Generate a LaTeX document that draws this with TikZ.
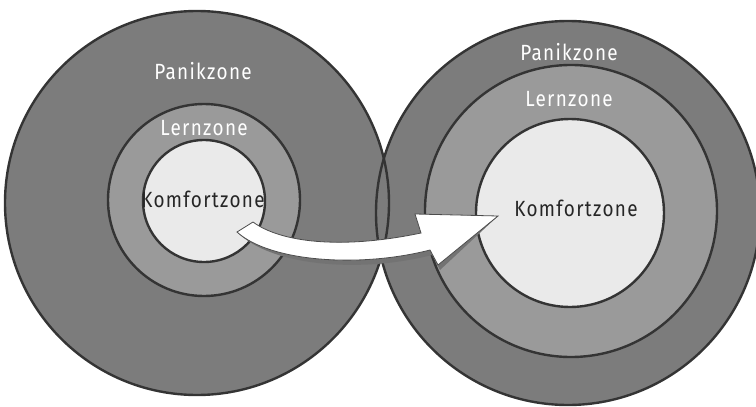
\documentclass[tikz,border=0pt]{standalone}
\usepackage{fontspec}
\usepackage{tikz}
\usetikzlibrary{positioning,calc}
\newfontfamily\zonefont[FakeStretch=0.86,LetterSpace=6]{Fira Sans}
\definecolor{panikgray}{RGB}{124,124,124}
\definecolor{lerngray}{RGB}{154,154,154}
\definecolor{komfortgray}{RGB}{234,234,234}
\definecolor{ringline}{RGB}{52,52,52}
\tikzset{
  ring/.style={circle, inner sep=0pt, line width=2.4pt, draw=ringline},
  zonetext/.style={font=\zonefont\fontsize{22}{24}\selectfont, inner sep=0pt},
  bigzone/.style={circle, inner sep=0pt, fill=panikgray}
}

\begin{document}
\begin{tikzpicture}[x=1pt,y=-1pt]
  \useasboundingbox (0,0) rectangle (756,407);
  \node[bigzone, minimum size=384pt] (lpanik) at (197,203) {};
  \node[bigzone, minimum size=384pt] (rpanik) at (568,213) {};
  \draw[line width=2.4pt, ringline] (lpanik.center) circle[radius=192];
  \draw[line width=2.4pt, ringline] (rpanik.center) circle[radius=192];
  \node[ring, fill=lerngray, minimum size=192pt] (llern) at (204,200) {};
  \node[ring, fill=komfortgray, minimum size=122pt] (lkomf) at (204,201) {};
  \node[ring, fill=lerngray, minimum size=292pt] (rlern) at (571,211) {};
  \node[ring, fill=komfortgray, minimum size=188pt] (rkomf) at (570,213) {};

  \node[zonetext, white] (lpanik-t) at (203,71) {Panikzone};
  \node[zonetext, white] (llern-t) at (204,128) {Lernzone};
  \node[zonetext, black!85] (lkomf-t) at (203,199) {Komfortzone};
  \node[zonetext, white] (rpanik-t) at (569,52) {Panikzone};
  \node[zonetext, white] (rlern-t) at (569,99) {Lernzone};
  \node[zonetext, black!85] (rkomf-t) at (576,208) {Komfortzone};

  \coordinate (atail) at (237,232);
  \coordinate (atip) at (498,216);
  \fill[black!55, shift={(2,5)}]
    (atail) -- (253,222) .. controls (280,242) and (340,250) .. (421,233)
    -- (415,214) -- (atip) -- (438,265) -- (430,250)
    .. controls (360,268) and (270,262) .. (atail) -- cycle;
  \filldraw[fill=white, draw=black!70, line width=0.8pt]
    (atail) -- (253,222) .. controls (280,242) and (340,250) .. (421,233)
    -- (415,214) -- (atip) -- (438,265) -- (430,250)
    .. controls (360,268) and (270,262) .. (atail) -- cycle;
\end{tikzpicture}
\end{document}
